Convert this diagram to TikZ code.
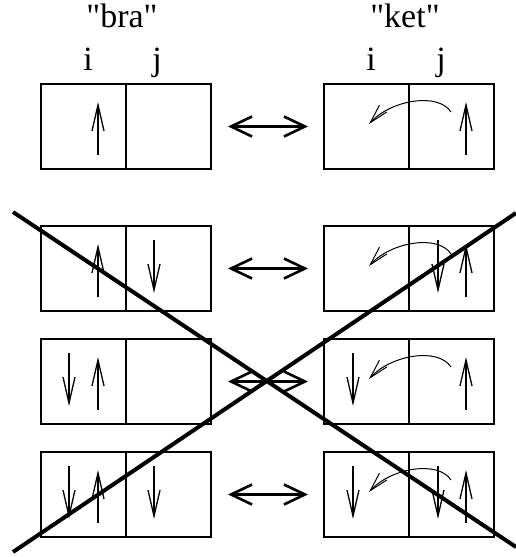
\documentclass[tikz,border=0pt]{standalone}
\usepackage{fontspec}
\setmainfont{Liberation Serif}[Ligatures=TeXOff]
\usetikzlibrary{arrows.meta}
\begin{document}
\begin{tikzpicture}[x=1pt,y=-1pt,
  cell/.style={draw,line width=2pt,minimum width=85pt,minimum height=85pt,inner sep=0pt,outer sep=0pt},
  spin/.style={line width=1.3pt,-{Straight Barb[length=26pt,width=12pt,line width=1.3pt]}},
  hop/.style={line width=1pt,-{Straight Barb[length=19pt,width=10pt,line width=1pt]}},
  dbl/.style={line width=2.6pt,{Straight Barb[length=21pt,width=20pt]}-{Straight Barb[length=21pt,width=20pt]}},
  cross/.style={line width=4pt},
  lbl/.style={font=\fontsize{34}{40}\selectfont,anchor=base,inner sep=0pt}]
\useasboundingbox (0,0) rectangle (516,557);
% labels
\node[lbl] (bra) at (122,27) {"bra"};
\node[lbl] (ket) at (405,27) {"ket"};
\node[lbl] (bi) at (88,70) {i};
\node[lbl] (bj) at (157,70) {j};
\node[lbl] (ki) at (371,70) {i};
\node[lbl] (kj) at (441,70) {j};
% boxes
\foreach \r/\t in {1/84,2/226,3/339,4/452}{
  \node[cell] (b\r i) at (83.5,\t+42.5) {};
  \node[cell] (b\r j) at (168.5,\t+42.5) {};
  \node[cell] (k\r i) at (366.5,\t+42.5) {};
  \node[cell] (k\r j) at (451.5,\t+42.5) {};
  \draw[dbl,shorten <=17pt,shorten >=16pt] (b\r j.east) -- (k\r i.west);
  \draw[hop] (451,\t+28) .. controls (438,\t+8) and (391,\t+16) .. (369,\t+40);
}
% row 1
\draw[spin] (98,155) -- (98,102);
\draw[spin] (466,155) -- (466,102);
% row 2
\draw[spin] (98,297) -- (98,244);
\draw[spin] (154,240) -- (154,293);
\draw[spin] (438,240) -- (438,293);
\draw[spin] (466,297) -- (466,244);
% row 3
\draw[spin] (69,353) -- (69,406);
\draw[spin] (98,410) -- (98,357);
\draw[spin] (353,353) -- (353,406);
\draw[spin] (466,410) -- (466,357);
% row 4
\draw[spin] (69,466) -- (69,519);
\draw[spin] (98,523) -- (98,470);
\draw[spin] (154,466) -- (154,519);
\draw[spin] (353,466) -- (353,519);
\draw[spin] (438,466) -- (438,519);
\draw[spin] (466,523) -- (466,470);
% crossing lines
\coordinate (x1a) at (13,212);
\coordinate (x1b) at (516,547);
\coordinate (x2a) at (13,552);
\coordinate (x2b) at (516,213);
\draw[cross] (x1a) -- (x1b);
\draw[cross] (x2a) -- (x2b);
\end{tikzpicture}
\end{document}
